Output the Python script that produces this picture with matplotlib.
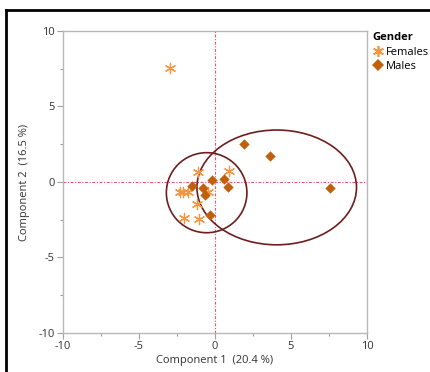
# PCA score plot, components 1 and 2, grouped by gender
import numpy as np
import matplotlib.pyplot as plt
from matplotlib.patches import Ellipse
from matplotlib.lines import Line2D

plt.rcParams['font.family'] = ['Open Sans', 'DejaVu Sans']
plt.rcParams['axes.unicode_minus'] = False

# scores
females_x = [-2.97, -1.10, 0.95, -2.27, -2.10, -1.76, -0.44, -1.21, -2.05, -1.03]
females_y = [7.55, 0.64, 0.75, -0.64, -0.64, -0.68, -0.64, -1.46, -2.40, -2.47]
males_x = [1.91, 3.63, 7.59, -1.50, -0.22, 0.59, 0.88, -0.77, -0.66, -0.31]
males_y = [2.52, 1.72, -0.42, -0.24, 0.13, 0.18, -0.31, -0.38, -0.86, -2.19]

# confidence ellipses (centre x, centre y, width, height, angle)
fem_ell = (-0.55, -0.71, 5.3, 5.3, 0)
male_ell = (4.06, -0.36, 10.5, 7.6, 0)

fem_col = '#F7953F'
male_col = '#C0600A'
ell_col = '#6E1E1E'
ref_col = '#F0506A'

fig = plt.figure(figsize=(4.3, 3.72), dpi=100)
ax = fig.add_axes([0.1465, 0.1048, 0.707, 0.812])

ax.axhline(0, color=ref_col, lw=0.8, ls=(0, (2.5, 1.5, 1, 1.5)), zorder=1)
ax.axvline(0, color=ref_col, lw=0.8, ls=(0, (2.5, 1.5, 1, 1.5)), zorder=1)

for cx, cy, w, h, a in [fem_ell, male_ell]:
    ax.add_patch(Ellipse((cx, cy), w, h, angle=a, fill=False, ec=ell_col, lw=1.2, zorder=2))

ax.scatter(females_x, females_y, marker=(6, 2, 0), s=55, color=fem_col, lw=0.9, zorder=3)
ax.scatter(males_x, males_y, marker='D', s=28, color=male_col, lw=0, zorder=3)

ax.set_xlim(-10, 10)
ax.set_ylim(-10, 10)
ax.set_xticks([-10, -5, 0, 5, 10])
ax.set_yticks([-10, -5, 0, 5, 10])
ax.set_xticks([-7.5, -2.5, 2.5, 7.5], minor=True)
ax.set_yticks([-7.5, -2.5, 2.5, 7.5], minor=True)
ax.tick_params(which='both', color='#A0A0A0', labelsize=8, labelcolor='#333333', width=0.8)
ax.tick_params(which='major', length=4, pad=2)
ax.tick_params(which='minor', length=2)
for s in ax.spines.values():
    s.set_color('#B8B8B8')
    s.set_linewidth(1.0)

ax.set_xlabel('Component 1  (20.4 %)', fontsize=8, color='#333333', labelpad=2)
ax.set_ylabel('Component 2  (16.5 %)', fontsize=8, color='#333333', labelpad=6)

handles = [Line2D([], [], marker=(6, 2, 0), ls='', color=fem_col, ms=8, mew=1.2),
           Line2D([], [], marker='D', ls='', color=male_col, ms=6, mew=0)]
leg = fig.legend(handles, ['Females', 'Males'], title='Gender', loc='upper left',
                 bbox_to_anchor=(0.855, 0.925), frameon=False, fontsize=8,
                 handletextpad=0.2, handlelength=1.0, borderaxespad=0,
                 labelspacing=0.3, alignment='left')
leg.get_title().set_fontweight('bold')
leg.get_title().set_fontsize(8)

# window frame lines on the left and top
fig.add_artist(Line2D([0.015, 0.015], [0, 0.973], color='black', lw=2))
fig.add_artist(Line2D([0.015, 1], [0.973, 0.973], color='black', lw=2))

fig.savefig('out.png', dpi=100)
